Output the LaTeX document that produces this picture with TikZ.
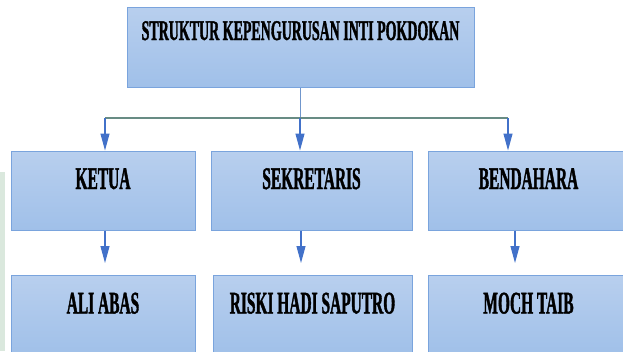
\documentclass[tikz,border=0pt]{standalone}
\usepackage{fontspec}
\newfontfamily\orgfont{Liberation Serif}[FakeStretch=0.49,BoldFeatures={FakeBold=1.2}]
\usetikzlibrary{arrows.meta,positioning}
\definecolor{boxtop}{RGB}{184,207,238}
\definecolor{boxbot}{RGB}{160,192,233}
\definecolor{boxline}{RGB}{122,164,221}
\definecolor{busline}{RGB}{104,140,132}
\definecolor{stemline}{RGB}{112,150,204}
\definecolor{arrblue}{RGB}{58,106,200}
\definecolor{sidegreen}{RGB}{218,232,221}

\begin{document}
\begin{tikzpicture}[x=1pt,y=-1pt,
  orgbox/.style={draw=boxline,line width=1pt,top color=boxtop,bottom color=boxbot,
    minimum height=79pt,inner sep=0pt,text height=10pt,text depth=13pt,
    font=\orgfont\bfseries\fontsize{31.5}{33}\selectfont},
  headbox/.style={orgbox,minimum height=80pt,text depth=24pt,
    font=\orgfont\bfseries\fontsize{28.5}{30}\selectfont},
  bus/.style={busline,line width=1.3pt},
  stem/.style={stemline,line width=1.1pt},
  arr/.style={-{Triangle[length=17pt,width=9pt]},arrblue!85!stemline,line width=1.1pt}]
  \useasboundingbox (0,0) rectangle (623,351);
  \clip (0,0) rectangle (623,351);
  % side strip
  \fill[sidegreen] (0,172) rectangle (5,351);
  % head
  \node[headbox,minimum width=347pt] (title) at (300.5,47) {STRUKTUR KEPENGURUSAN INTI POKDOKAN};
  % posts
  \node[orgbox,minimum width=184pt] (ketua) at (103,190.5) {KETUA};
  \node[orgbox,minimum width=201pt] (sekre) at (311.5,190.5) {SEKRETARIS};
  \node[orgbox,minimum width=201pt] (benda) at (528.5,190.5) {BENDAHARA};
  % names
  \node[orgbox,minimum width=184pt] (ali) at (103,315) {ALI ABAS};
  \node[orgbox,minimum width=199pt] (riski) at (312.5,315) {RISKI HADI SAPUTRO};
  \node[orgbox,minimum width=201pt] (moch) at (528.5,315) {MOCH TAIB};
  % bus line
  \coordinate (busL) at (105,118);
  \coordinate (busM) at (300,118);
  \coordinate (busR) at (508,118);
  \draw[stem] (title.south) -- (title.south |- busM);
  \draw[bus] (busL) -- (busR);
  \draw[arr] (busL) -- (busL |- ketua.north);
  \draw[arr] (busM) -- (busM |- sekre.north);
  \draw[arr] (busR) -- (busR |- benda.north);
  % lower arrows
  \coordinate (endK) at (105,263);
  \coordinate (endS) at (301,263);
  \coordinate (endB) at (515,263);
  \draw[arr] (ketua.south -| endK) -- (endK);
  \draw[arr] (sekre.south -| endS) -- (endS);
  \draw[arr] (benda.south -| endB) -- (endB);
\end{tikzpicture}
\end{document}
